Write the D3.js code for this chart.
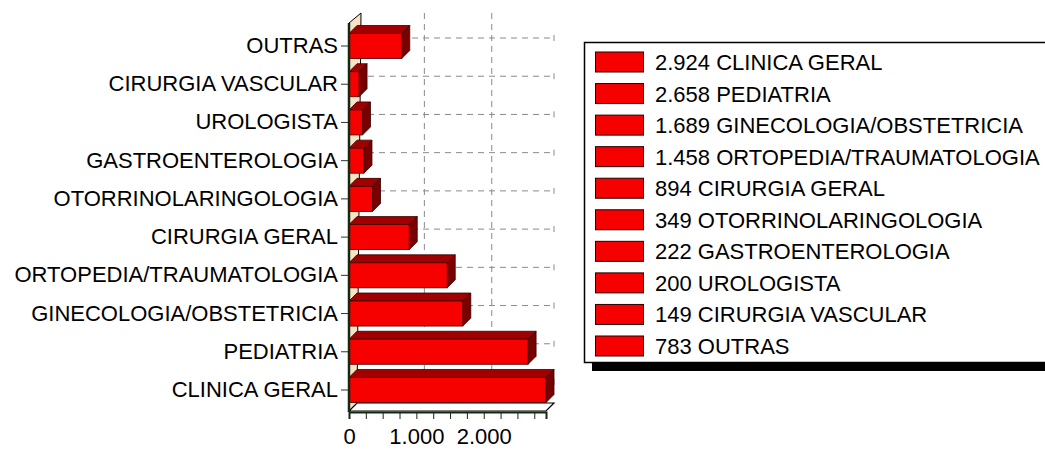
<!DOCTYPE html>
<html>
<head>
<meta charset="utf-8">
<script src="https://cdn.jsdelivr.net/npm/d3@7"></script>
<style>
  body { margin: 0; background: #fff; }
  svg text { font-family: "Liberation Sans", Arial, sans-serif; font-size: 22px; fill: #000; }
</style>
</head>
<body>
<svg id="chart" width="1045" height="450"></svg>
<script>
// data, in legend order
const categories = ["CLINICA GERAL", "PEDIATRIA", "GINECOLOGIA/OBSTETRICIA", "ORTOPEDIA/TRAUMATOLOGIA",
    "CIRURGIA GERAL", "OTORRINOLARINGOLOGIA", "GASTROENTEROLOGIA", "UROLOGISTA", "CIRURGIA VASCULAR", "OUTRAS"];
const values = [2924, 2658, 1689, 1458, 894, 349, 222, 200, 149, 783];
const xTickValues = [0, 250, 500, 750, 1000, 1250, 1500, 1750, 2000, 2250, 2500, 2750];
const xLabelValues = [0, 1000, 2000];

const svg = d3.select("#chart");
const fmt = d3.formatLocale({ decimal: ",", thousands: ".", grouping: [3], currency: ["", ""] }).format(",d");

// 3d depth offset
const dx = 8, dy = -8;

const x = d3.scaleLinear().domain([0, d3.max(values)]).range([349, 546]);
const y = d3.scaleBand()
    .domain(categories.slice().reverse())
    .range([27, 409])
    .paddingInner(0.345)
    .paddingOuter(0.17);
const bw = y.bandwidth();
const yTop = 23, yBottom = 411;

const data = categories.map((c, i) => ({ name: c, value: values[i] }));

// back grid (dashed)
const grid = svg.append("g").attr("stroke", "#8a8a8a").attr("stroke-dasharray", "6,5");
grid.selectAll("line.v")
    .data([1000, 2000])
    .enter().append("line")
    .attr("x1", d => x(d) + dx).attr("x2", d => x(d) + dx)
    .attr("y1", yTop + dy - 2).attr("y2", yBottom + dy);
grid.selectAll("line.h")
    .data(categories)
    .enter().append("line")
    .attr("x1", x(0) + dx).attr("x2", x.range()[1] + dx)
    .attr("y1", d => y(d) + bw / 2 + dy).attr("y2", d => y(d) + bw / 2 + dy);
// small end marks at right of each grid row
svg.append("g").selectAll("line")
    .data(categories)
    .enter().append("line")
    .attr("stroke", "#8a8a8a")
    .attr("x1", x.range()[1] + dx).attr("x2", x.range()[1] + dx)
    .attr("y1", d => y(d) + bw / 2 + dy - 3).attr("y2", d => y(d) + bw / 2 + dy + 3);

// left wall
svg.append("polygon")
    .attr("points", [[x(0), yTop], [x(0) + dx + 4, yTop + dy - 2], [x(0) + dx, yBottom + dy], [x(0), yBottom]].join(" "))
    .attr("fill", "#f8e4c4").attr("stroke", "#000").attr("stroke-width", 1);

// floor
svg.append("polygon")
    .attr("points", [[x(0), yBottom], [x.range()[1], yBottom], [x.range()[1] + dx, yBottom + dy], [x(0) + dx, yBottom + dy]].join(" "))
    .attr("fill", "#fff").attr("stroke", "#000").attr("stroke-width", 1.2);

// bars
const bars = svg.append("g").selectAll("g")
    .data(data)
    .enter().append("g");

bars.append("polygon")
    .attr("points", d => [[x(0), y(d.name)], [x(0) + dx, y(d.name) + dy], [x(d.value) + dx, y(d.name) + dy], [x(d.value), y(d.name)]].join(" "))
    .attr("fill", "#a10000").attr("stroke", "#300").attr("stroke-width", 0.8);
bars.append("polygon")
    .attr("points", d => [[x(d.value), y(d.name)], [x(d.value) + dx, y(d.name) + dy], [x(d.value) + dx, y(d.name) + bw + dy], [x(d.value), y(d.name) + bw]].join(" "))
    .attr("fill", "#7a0000").attr("stroke", "#300").attr("stroke-width", 0.8);
bars.append("rect")
    .attr("x", x(0))
    .attr("y", d => y(d.name))
    .attr("width", d => x(d.value) - x(0))
    .attr("height", bw)
    .attr("fill", "#f60000").attr("stroke", "#400").attr("stroke-width", 0.8);

// left axis
svg.append("line")
    .attr("x1", x(0)).attr("x2", x(0)).attr("y1", yTop).attr("y2", yBottom + 1)
    .attr("stroke", "#142814").attr("stroke-width", 2.5);
const yAxis = svg.append("g")
    .attr("transform", `translate(${x(0) - 1},${0})`)
    .call(d3.axisLeft(y).tickSize(7).tickPadding(3));
yAxis.select(".domain").remove();
yAxis.selectAll(".tick line").attr("stroke", "#333");
yAxis.selectAll(".tick text")
    .attr("font-size", null).attr("font-family", null)
    .style("font-size", "22px");

// bottom axis
const xAxis = svg.append("g")
    .attr("transform", `translate(0,${yBottom + 1})`)
    .call(d3.axisBottom(x).tickValues(xTickValues).tickSize(7).tickPadding(9)
        .tickFormat(d => xLabelValues.includes(d) ? fmt(d) : ""));
xAxis.select(".domain").attr("stroke", "#142814").attr("stroke-width", 2);
xAxis.selectAll(".tick line").attr("stroke", "#142814");
xAxis.selectAll(".tick text")
    .attr("font-size", null).attr("font-family", null)
    .style("font-size", "22px");

// legend
const lg = svg.append("g");
lg.append("rect")
    .attr("x", 592).attr("y", 363).attr("width", 470).attr("height", 8)
    .attr("fill", "#000");
lg.append("rect")
    .attr("x", 584.5).attr("y", 42.5).attr("width", 480).attr("height", 320)
    .attr("fill", "#fff").attr("stroke", "#000").attr("stroke-width", 1.5);

const rowY = d3.scalePoint().domain(categories).range([62, 346]);
const rows = lg.selectAll("g.row")
    .data(data)
    .enter().append("g")
    .attr("transform", d => `translate(0,${rowY(d.name)})`);
rows.append("rect")
    .attr("x", 595.5).attr("y", -10).attr("width", 48).attr("height", 20)
    .attr("fill", "#f60000").attr("stroke", "#200").attr("stroke-width", 1);
rows.append("text")
    .attr("x", 655).attr("y", 8)
    .text(d => fmt(d.value) + " " + d.name);
</script>
</body>
</html>
